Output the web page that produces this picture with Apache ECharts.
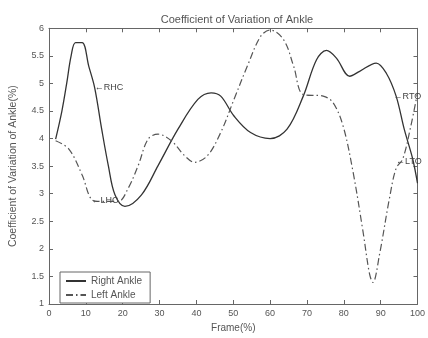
<!DOCTYPE html>
<html>
<head>
<meta charset="utf-8">
<script src="https://cdn.jsdelivr.net/npm/echarts@6/dist/echarts.min.js"></script>
<style>html,body{margin:0;padding:0;background:#fff}#c{width:428px;height:338px}</style>
</head>
<body>
<div id="c"></div>
<script>
var titleText = 'Coefficient of Variation of Ankle';
var xName = 'Frame(%)';
var yName = 'Coefficient of Variation of Ankle(%)';
var seriesNames = ['Right Ankle', 'Left Ankle'];

var rightFrames = [1.8, 3.5, 4.8, 6, 7.2, 9, 10.8, 12.4, 14.3, 16.1, 17.9, 20.6, 25.1, 29.6, 35, 40.4, 44, 46.6, 50.2, 54.7, 60, 64.6, 69, 72.6, 75.3, 78, 81.6, 84.3, 88.8, 91.5, 94.2, 96.4, 98.7, 100];
var rightValues = [3.99, 4.5, 5.0, 5.5, 5.74, 5.74, 5.31, 4.92, 4.17, 3.51, 2.98, 2.77, 2.98, 3.51, 4.17, 4.71, 4.83, 4.77, 4.41, 4.11, 4.0, 4.17, 4.77, 5.43, 5.6, 5.46, 5.13, 5.22, 5.37, 5.19, 4.77, 4.17, 3.63, 3.19];

var leftFrames = [1.8, 5.4, 9, 11.7, 14.3, 18.8, 21.5, 24.2, 26.9, 29.6, 33.2, 36.8, 39.5, 43, 46.6, 50.2, 53.8, 57.4, 60, 63.7, 66.4, 69, 74.4, 77.1, 79.8, 82.5, 85.2, 87, 87.9, 89.7, 92.4, 94.2, 96, 98.2, 100];
var leftValues = [3.96, 3.81, 3.34, 2.89, 2.86, 2.86, 3.1, 3.51, 3.99, 4.08, 3.96, 3.69, 3.57, 3.69, 4.11, 4.71, 5.31, 5.85, 5.97, 5.79, 5.31, 4.8, 4.77, 4.65, 4.23, 3.4, 2.32, 1.54, 1.39, 1.9, 2.92, 3.46, 3.63, 4.23, 4.83];

var annoLabels = ['RHC', 'LHC', 'RTO', 'LTO'];
var annoSeries = [0, 1, 0, 1];
var annoFrames = [12.4, 11.5, 93.5, 94.2];
var annoValues = [4.92, 2.87, 4.77, 3.58];

var xTicks = [0, 10, 20, 30, 40, 50, 60, 70, 80, 90, 100];
var yTicks = [1, 1.5, 2, 2.5, 3, 3.5, 4, 4.5, 5, 5.5, 6];

function pairs(xs, ys) { return xs.map(function (x, i) { return [x, ys[i]]; }); }
function marks(si) {
  var out = [];
  annoLabels.forEach(function (l, i) {
    if (annoSeries[i] === si) out.push({ coord: [annoFrames[i], annoValues[i]], value: l });
  });
  return out;
}

var txt = '#555';
var axisCol = '#666';
var font = 'Liberation Sans';

var chart = echarts.init(document.getElementById('c'), null, { renderer: 'canvas' });
var axisCommon = {
  axisLine: { show: true, onZero: false, lineStyle: { color: axisCol, width: 1 } },
  axisTick: { show: true, inside: true, length: 4, lineStyle: { color: axisCol } },
  splitLine: { show: false }
};
var annoLabel = {
  show: true, position: 'right', distance: 0,
  formatter: function (p) { return '\u2190' + p.value; },
  fontSize: 9, color: '#444', fontFamily: font
};
chart.setOption({
  animation: false,
  backgroundColor: '#fff',
  title: {
    text: titleText, left: 232, top: 9, textAlign: 'center',
    textStyle: { fontSize: 11, fontWeight: 'normal', color: txt, fontFamily: font }
  },
  legend: {
    orient: 'vertical', left: 60, top: 272,
    data: seriesNames,
    itemWidth: 20, itemHeight: 8, itemGap: 4,
    padding: [4, 8, 3, 5],
    borderColor: axisCol, borderWidth: 1, borderRadius: 0,
    backgroundColor: '#fff',
    itemStyle: { opacity: 0 },
    textStyle: { fontSize: 10, color: txt, fontFamily: font }
  },
  grid: { left: 46.7, right: 9.7, top: 28.3, bottom: 31.3, containLabel: false },
  xAxis: [
    Object.assign({
      type: 'value', min: xTicks[0], max: xTicks[xTicks.length - 1], interval: 10,
      name: xName, nameLocation: 'middle', nameGap: 19,
      nameTextStyle: { fontSize: 10, color: txt, fontFamily: font },
      axisLabel: { fontSize: 9, color: txt, margin: 5, fontFamily: font }
    }, axisCommon),
    Object.assign({
      type: 'value', position: 'top', min: 0, max: 100, interval: 10,
      axisLabel: { show: false }
    }, axisCommon)
  ],
  yAxis: [
    Object.assign({
      type: 'value', min: yTicks[0], max: yTicks[yTicks.length - 1], interval: 0.5,
      name: yName, nameLocation: 'middle', nameGap: 30,
      nameTextStyle: { fontSize: 10.5, color: txt, fontFamily: font },
      axisLabel: { fontSize: 9, color: txt, margin: 5, fontFamily: font }
    }, axisCommon),
    Object.assign({
      type: 'value', position: 'right', min: 1, max: 6, interval: 0.5,
      axisLabel: { show: false }
    }, axisCommon)
  ],
  series: [
    {
      name: seriesNames[0], type: 'line', data: pairs(rightFrames, rightValues),
      smooth: 0.35, symbol: 'none', color: '#333',
      lineStyle: { color: '#333', width: 1.3, type: 'solid' },
      markPoint: { symbol: 'circle', symbolSize: 0, label: annoLabel, data: marks(0) }
    },
    {
      name: seriesNames[1], type: 'line', data: pairs(leftFrames, leftValues),
      smooth: 0.35, symbol: 'none', color: '#555',
      lineStyle: { color: '#555', width: 1.2, type: [7, 3, 1.5, 3] },
      markPoint: { symbol: 'circle', symbolSize: 0, label: annoLabel, data: marks(1) }
    }
  ]
});
</script>
</body>
</html>
